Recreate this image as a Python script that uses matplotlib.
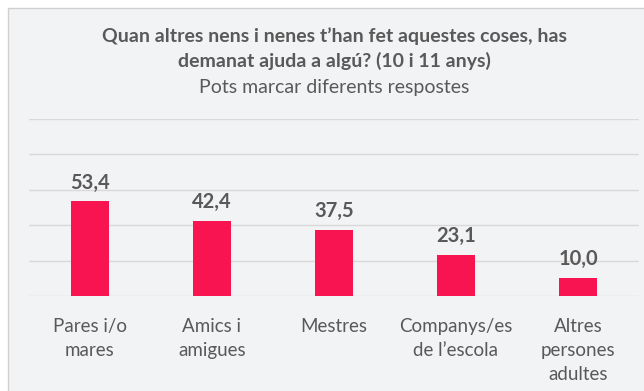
import matplotlib.pyplot as plt
from matplotlib.patches import Rectangle

categories = ["Pares i/o\nmares", "Amics i\namigues", "Mestres",
              "Companys/es\nde l\u2019escola", "Altres\npersones\nadultes"]
values = [53.4, 42.4, 37.5, 23.1, 10.0]
value_labels = ["53,4", "42,4", "37,5", "23,1", "10,0"]
y_ticks = [0, 20, 40, 60, 80, 100]

title = "Quan altres nens i nenes t\u2019han fet aquestes coses, has\ndemanat ajuda a algú? (10 i 11 anys)"
subtitle = "Pots marcar diferents respostes"

text_color = "#595959"
bar_color = "#F81450"
grid_color = "#D9D9D9"
panel_color = "#F2F3F5"

plt.rcParams["font.family"] = ["Lato", "DejaVu Sans"]

fig = plt.figure(figsize=(6.44, 3.91), dpi=100, facecolor="white")

# chart panel, cut off on the right and bottom
panel = Rectangle((8 / 644, -0.05), 1.0, 1 - 8 / 391 + 0.05,
                  transform=fig.transFigure, facecolor=panel_color,
                  edgecolor="#D0D0D0", linewidth=1.0, zorder=-1)
fig.patches.append(panel)

ax = fig.add_axes([29 / 644, 1 - 296 / 391, 610 / 644, 177 / 391])
ax.set_facecolor("none")
ax.set_zorder(1)

x = range(len(categories))
ax.bar(x, values, width=0.31, color=bar_color, zorder=3)
for xi, v, lab in zip(x, values, value_labels):
    ax.text(xi, v + 5, lab, ha="center", va="bottom", fontsize=14.5,
            fontweight="bold", color=text_color)

ax.set_ylim(0, 100)
ax.set_xlim(-0.5, len(categories) - 0.5)
ax.set_yticks(y_ticks)
ax.yaxis.grid(True, color=grid_color, linewidth=1.0, zorder=0)
ax.tick_params(axis="y", left=False, labelleft=False)
ax.tick_params(axis="x", bottom=False, pad=12, labelsize=13.5, labelcolor=text_color)
ax.set_xticks(list(x))
ax.set_xticklabels(categories, linespacing=1.5, va="top")
for s in ax.spines.values():
    s.set_visible(False)

fig.text(334 / 644, 1 - 27 / 391, title, ha="center", va="top", fontsize=14,
         fontweight="bold", color=text_color, linespacing=1.45)
fig.text(334 / 644, 1 - 88 / 391, subtitle, ha="center", va="center",
         fontsize=14, color=text_color)

fig.savefig("out.png", dpi=100, facecolor="white")
